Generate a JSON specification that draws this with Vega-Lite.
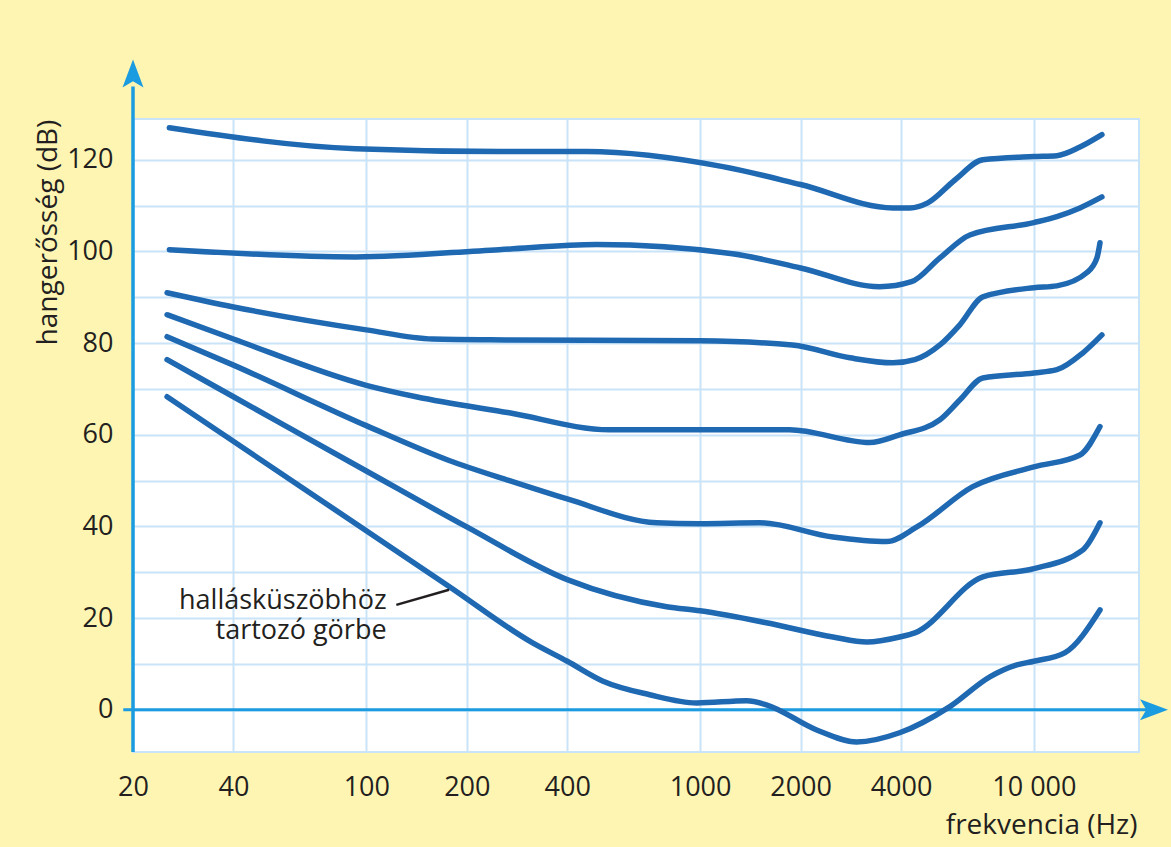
{
  "$schema": "https://vega.github.io/schema/vega-lite/v6.json",
  "width": 1006,
  "height": 633,
  "autosize": {"type": "none"},
  "padding": {"left": 133, "top": 119, "right": 32, "bottom": 95},
  "background": "#FEF5B3",
  "config": {
    "view": {"fill": "white", "stroke": "#C9E4F8", "strokeWidth": 2},
    "axis": {
      "domain": false,
      "ticks": false,
      "tickSize": 0,
      "gridColor": "#C9E4F8",
      "gridWidth": 2,
      "labelFont": "Open Sans",
      "labelFontSize": 27,
      "labelColor": "#231F20",
      "titleFont": "Open Sans",
      "titleFontSize": 28,
      "titleFontWeight": "normal",
      "titleColor": "#231F20"
    }
  },
  "layer": [
    {
      "data": {"values": [{}]},
      "mark": {"type": "rule", "color": "#1B9BE0", "strokeWidth": 3},
      "encoding": {
        "x": {"datum": 18.7, "type": "quantitative"},
        "x2": {"datum": 22000},
        "y": {"datum": 0, "type": "quantitative"}
      }
    },
    {
      "data": {"values": [{}]},
      "mark": {"type": "rule", "color": "#1B9BE0", "strokeWidth": 3.5},
      "encoding": {
        "x": {"datum": 20, "type": "quantitative"},
        "y": {"datum": -9.2, "type": "quantitative"},
        "y2": {"datum": 136}
      }
    },
    {
      "data": {
        "values": [
          {"curve": "c1", "f": 25.7, "db": 127.0},
          {"curve": "c1", "f": 93, "db": 122.4},
          {"curve": "c1", "f": 250, "db": 121.8},
          {"curve": "c1", "f": 457, "db": 121.8},
          {"curve": "c1", "f": 1170, "db": 118.5},
          {"curve": "c1", "f": 2000, "db": 114.6},
          {"curve": "c1", "f": 3780, "db": 109.5},
          {"curve": "c1", "f": 4250, "db": 109.5},
          {"curve": "c1", "f": 4810, "db": 110.6},
          {"curve": "c1", "f": 5800, "db": 115.6},
          {"curve": "c1", "f": 7030, "db": 120.0},
          {"curve": "c1", "f": 10000, "db": 120.7},
          {"curve": "c1", "f": 11720, "db": 120.9},
          {"curve": "c1", "f": 13740, "db": 122.8},
          {"curve": "c1", "f": 15990, "db": 125.5},

          {"curve": "c2", "f": 25.7, "db": 100.4},
          {"curve": "c2", "f": 93, "db": 98.8},
          {"curve": "c2", "f": 250, "db": 100.4},
          {"curve": "c2", "f": 490, "db": 101.5},
          {"curve": "c2", "f": 1250, "db": 99.5},
          {"curve": "c2", "f": 2000, "db": 96.4},
          {"curve": "c2", "f": 3450, "db": 92.3},
          {"curve": "c2", "f": 4300, "db": 93.4},
          {"curve": "c2", "f": 5230, "db": 98.6},
          {"curve": "c2", "f": 6430, "db": 103.6},
          {"curve": "c2", "f": 10000, "db": 106.3},
          {"curve": "c2", "f": 11720, "db": 107.6},
          {"curve": "c2", "f": 13740, "db": 109.5},
          {"curve": "c2", "f": 15990, "db": 111.9},

          {"curve": "c3", "f": 25.3, "db": 91.0},
          {"curve": "c3", "f": 40, "db": 87.9},
          {"curve": "c3", "f": 100, "db": 82.9},
          {"curve": "c3", "f": 158, "db": 80.9},
          {"curve": "c3", "f": 268, "db": 80.7},
          {"curve": "c3", "f": 1000, "db": 80.5},
          {"curve": "c3", "f": 1890, "db": 79.6},
          {"curve": "c3", "f": 2810, "db": 76.8},
          {"curve": "c3", "f": 3780, "db": 75.7},
          {"curve": "c3", "f": 4400, "db": 76.4},
          {"curve": "c3", "f": 5230, "db": 79.6},
          {"curve": "c3", "f": 6000, "db": 84.0},
          {"curve": "c3", "f": 7030, "db": 90.1},
          {"curve": "c3", "f": 10000, "db": 92.1},
          {"curve": "c3", "f": 11720, "db": 92.5},
          {"curve": "c3", "f": 14420, "db": 95.4},
          {"curve": "c3", "f": 15450, "db": 98.6},
          {"curve": "c3", "f": 15780, "db": 101.9},

          {"curve": "c4", "f": 25.3, "db": 86.2},
          {"curve": "c4", "f": 40, "db": 80.9},
          {"curve": "c4", "f": 100, "db": 70.8},
          {"curve": "c4", "f": 141, "db": 68.3},
          {"curve": "c4", "f": 268, "db": 64.8},
          {"curve": "c4", "f": 535, "db": 61.1},
          {"curve": "c4", "f": 1850, "db": 61.1},
          {"curve": "c4", "f": 3220, "db": 58.3},
          {"curve": "c4", "f": 3960, "db": 60.0},
          {"curve": "c4", "f": 5230, "db": 63.3},
          {"curve": "c4", "f": 6000, "db": 67.6},
          {"curve": "c4", "f": 7030, "db": 72.4},
          {"curve": "c4", "f": 10000, "db": 73.5},
          {"curve": "c4", "f": 11720, "db": 74.2},
          {"curve": "c4", "f": 14030, "db": 77.9},
          {"curve": "c4", "f": 15990, "db": 81.8},

          {"curve": "c5", "f": 25.3, "db": 81.4},
          {"curve": "c5", "f": 40, "db": 75.2},
          {"curve": "c5", "f": 100, "db": 62.0},
          {"curve": "c5", "f": 177, "db": 54.4},
          {"curve": "c5", "f": 268, "db": 50.0},
          {"curve": "c5", "f": 400, "db": 46.0},
          {"curve": "c5", "f": 741, "db": 40.8},
          {"curve": "c5", "f": 1000, "db": 40.6},
          {"curve": "c5", "f": 1510, "db": 40.8},
          {"curve": "c5", "f": 2500, "db": 37.7},
          {"curve": "c5", "f": 3620, "db": 36.7},
          {"curve": "c5", "f": 4460, "db": 39.9},
          {"curve": "c5", "f": 6560, "db": 48.7},
          {"curve": "c5", "f": 10000, "db": 53.0},
          {"curve": "c5", "f": 13740, "db": 55.6},
          {"curve": "c5", "f": 15780, "db": 61.8},

          {"curve": "c6", "f": 25.3, "db": 76.4},
          {"curve": "c6", "f": 40, "db": 68.3},
          {"curve": "c6", "f": 100, "db": 52.1},
          {"curve": "c6", "f": 200, "db": 39.9},
          {"curve": "c6", "f": 400, "db": 28.4},
          {"curve": "c6", "f": 794, "db": 22.5},
          {"curve": "c6", "f": 1000, "db": 21.6},
          {"curve": "c6", "f": 1580, "db": 19.0},
          {"curve": "c6", "f": 2500, "db": 15.9},
          {"curve": "c6", "f": 3160, "db": 14.8},
          {"curve": "c6", "f": 3960, "db": 15.9},
          {"curve": "c6", "f": 4400, "db": 16.8},
          {"curve": "c6", "f": 7030, "db": 29.0},
          {"curve": "c6", "f": 10000, "db": 30.8},
          {"curve": "c6", "f": 14030, "db": 34.9},
          {"curve": "c6", "f": 15780, "db": 40.8},

          {"curve": "c7", "f": 25.3, "db": 68.3},
          {"curve": "c7", "f": 63, "db": 48.9},
          {"curve": "c7", "f": 177, "db": 26.9},
          {"curve": "c7", "f": 315, "db": 14.6},
          {"curve": "c7", "f": 400, "db": 10.6},
          {"curve": "c7", "f": 510, "db": 6.3},
          {"curve": "c7", "f": 706, "db": 3.3},
          {"curve": "c7", "f": 977, "db": 1.5},
          {"curve": "c7", "f": 1380, "db": 2.0},
          {"curve": "c7", "f": 1580, "db": 1.1},
          {"curve": "c7", "f": 2235, "db": -4.4},
          {"curve": "c7", "f": 2945, "db": -7.0},
          {"curve": "c7", "f": 3960, "db": -5.0},
          {"curve": "c7", "f": 5600, "db": 0.7},
          {"curve": "c7", "f": 7380, "db": 7.2},
          {"curve": "c7", "f": 8890, "db": 9.8},
          {"curve": "c7", "f": 10000, "db": 10.6},
          {"curve": "c7", "f": 12400, "db": 12.5},
          {"curve": "c7", "f": 15780, "db": 21.8}
        ]
      },
      "mark": {"type": "line", "interpolate": "monotone", "color": "#1F68B2", "strokeWidth": 5.5, "strokeCap": "round", "strokeJoin": "round"},
      "encoding": {
        "x": {
          "field": "f",
          "type": "quantitative",
          "scale": {"type": "log", "domain": [20, 20650], "nice": false},
          "axis": {
            "values": [20, 40, 100, 200, 400, 1000, 2000, 4000, 10000],
            "labelExpr": "datum.value == 10000 ? '10 000' : format(datum.value, 'd')",
            "labelBaseline": "alphabetic",
            "labelPadding": 43,
            "labelFlush": false,
            "labelOverlap": false,
            "grid": true,
            "title": "frekvencia (Hz)",
            "titleAnchor": "end",
            "titleAlign": "right",
            "titleBaseline": "alphabetic",
            "titleX": 1004,
            "titleY": 81
          }
        },
        "y": {
          "field": "db",
          "type": "quantitative",
          "scale": {"domain": [-9.2, 128.9], "nice": false, "zero": false},
          "axis": {
            "values": [0, 10, 20, 30, 40, 50, 60, 70, 80, 90, 100, 110, 120],
            "labelExpr": "datum.value % 20 == 0 ? format(datum.value, 'd') : ''",
            "labelBaseline": "middle",
            "labelPadding": 20,
            "labelFlush": false,
            "labelOverlap": false,
            "grid": true,
            "title": "hangerősség (dB)",
            "titleAngle": -90,
            "titleAlign": "center",
            "titleBaseline": "alphabetic",
            "titleX": -77,
            "titleY": 113
          }
        },
        "detail": {"field": "curve"}
      }
    },
    {
      "data": {"values": [{}]},
      "mark": {"type": "point", "filled": true, "opacity": 1, "color": "#1B9BE0", "size": 784, "shape": "M0,-1L0.75,1L0,0.55L-0.75,1Z", "strokeWidth": 0},
      "encoding": {
        "x": {"datum": 20, "type": "quantitative"},
        "y": {"datum": 138.8, "type": "quantitative"}
      }
    },
    {
      "data": {"values": [{}]},
      "mark": {"type": "point", "filled": true, "opacity": 1, "color": "#1B9BE0", "size": 784, "shape": "M1,0L-1,-0.75L-0.55,0L-1,0.75Z", "strokeWidth": 0},
      "encoding": {
        "x": {"datum": 22900, "type": "quantitative"},
        "y": {"datum": 0, "type": "quantitative"}
      }
    },
    {
      "data": {"values": [{}]},
      "mark": {"type": "rule", "color": "#231F20", "strokeWidth": 2.5},
      "encoding": {
        "x": {"datum": 123, "type": "quantitative"},
        "x2": {"datum": 177},
        "y": {"datum": 22.9, "type": "quantitative"},
        "y2": {"datum": 26.2}
      }
    },
    {
      "data": {"values": [{}]},
      "mark": {"type": "text", "text": ["hallásküszöbhöz", "tartozó görbe"], "align": "right", "baseline": "alphabetic", "lineHeight": 30, "font": "Open Sans", "fontSize": 27, "color": "#231F20"},
      "encoding": {
        "x": {"datum": 115, "type": "quantitative"},
        "y": {"datum": 22.0, "type": "quantitative"}
      }
    }
  ]
}
